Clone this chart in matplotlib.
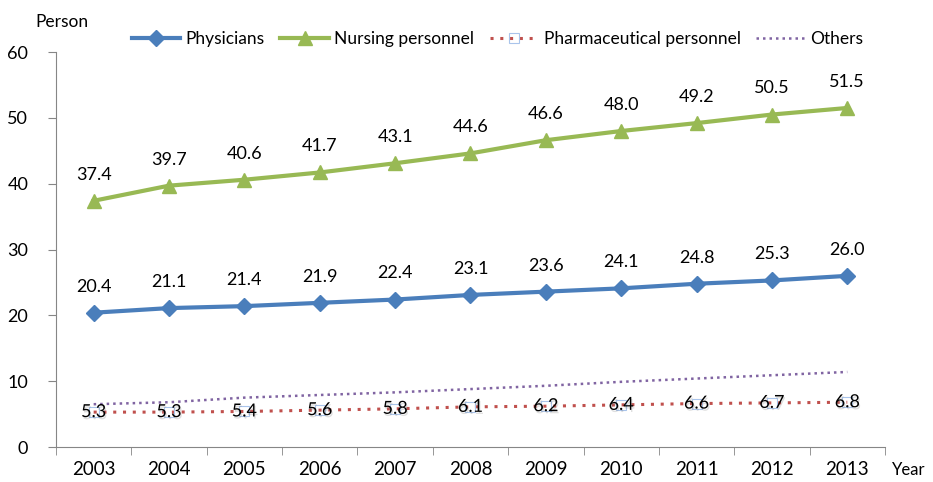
import matplotlib
matplotlib.use("Agg")
import matplotlib.pyplot as plt
import matplotlib.patheffects as pe
import numpy as np

# Health personnel per 10,000 population, by year
years = ["2003", "2004", "2005", "2006", "2007", "2008", "2009", "2010", "2011", "2012", "2013"]
physicians = [20.4, 21.1, 21.4, 21.9, 22.4, 23.1, 23.6, 24.1, 24.8, 25.3, 26.0]
nursing = [37.4, 39.7, 40.6, 41.7, 43.1, 44.6, 46.6, 48.0, 49.2, 50.5, 51.5]
pharma = [5.3, 5.3, 5.4, 5.6, 5.8, 6.1, 6.2, 6.4, 6.6, 6.7, 6.8]
others = [6.5, 6.8, 7.5, 7.9, 8.3, 8.8, 9.3, 9.9, 10.4, 10.9, 11.4]

plt.rcParams['font.family'] = ['Lato', 'DejaVu Sans']

fig = plt.figure(figsize=(9.33, 4.82), dpi=100)
ax = fig.add_axes([0.060, 0.0726, 0.8885, 0.8195])

x = np.arange(len(years))

ax.plot(x, physicians, color="#4a7ebb", lw=3, marker="D", ms=8,
        label="Physicians", zorder=4)
ax.plot(x, nursing, color="#98b954", lw=3, marker="^", ms=10,
        label="Nursing personnel", zorder=4)
ax.plot(x, pharma, color="#c0504d", lw=2.2, ls=(0, (1, 2.2)), marker="s", ms=7,
        mfc="none", mec="#a9c4eb", mew=0.8, label="Pharmaceutical personnel", zorder=3)
ax.plot(x, others, color="#8064a2", lw=1.8, ls=(0, (1, 1.6)),
        label="Others", zorder=3)

for xi, v in zip(x, physicians):
    ax.annotate(f"{v:.1f}", (xi, v), xytext=(0, 13), textcoords="offset points",
                ha="center", va="bottom", fontsize=13)
for xi, v in zip(x, nursing):
    ax.annotate(f"{v:.1f}", (xi, v), xytext=(0, 13), textcoords="offset points",
                ha="center", va="bottom", fontsize=13)
for xi, v in zip(x, pharma):
    ax.text(xi, v, f"{v:.1f}", ha="center", va="center", fontsize=13, zorder=5,
            path_effects=[pe.withSimplePatchShadow(offset=(0.8, -1.5),
                                                   shadow_rgbFace="#808080", alpha=0.25)])

ax.set_xlim(-0.5, len(years) - 0.5)
ax.set_ylim(0, 60)
ax.set_yticks(range(0, 61, 10))
ax.set_xticks(x)
ax.set_xticklabels(years)
ax.set_xticks(np.arange(-0.5, len(years), 1), minor=True)
ax.tick_params(axis="x", which="major", length=0, labelsize=13.5, pad=10)
ax.tick_params(axis="x", which="minor", length=6, color="#868686", direction="out")
ax.tick_params(axis="y", length=6, color="#868686", labelsize=13, pad=14)

for side in ("top", "right"):
    ax.spines[side].set_visible(False)
for side in ("left", "bottom"):
    ax.spines[side].set_color("#868686")

fig.text(0.038, 0.955, "Person", fontsize=12.5, ha="left", va="center")
fig.text(0.956, 0.025, "Year", fontsize=12, ha="left", va="center")

ax.legend(loc="lower left", bbox_to_anchor=(0.083, 0.995), ncol=4, frameon=False,
          fontsize=12.5, handlelength=2.8, columnspacing=0.9, handletextpad=0.3,
          borderaxespad=0)

fig.savefig("out.png", dpi=100)
